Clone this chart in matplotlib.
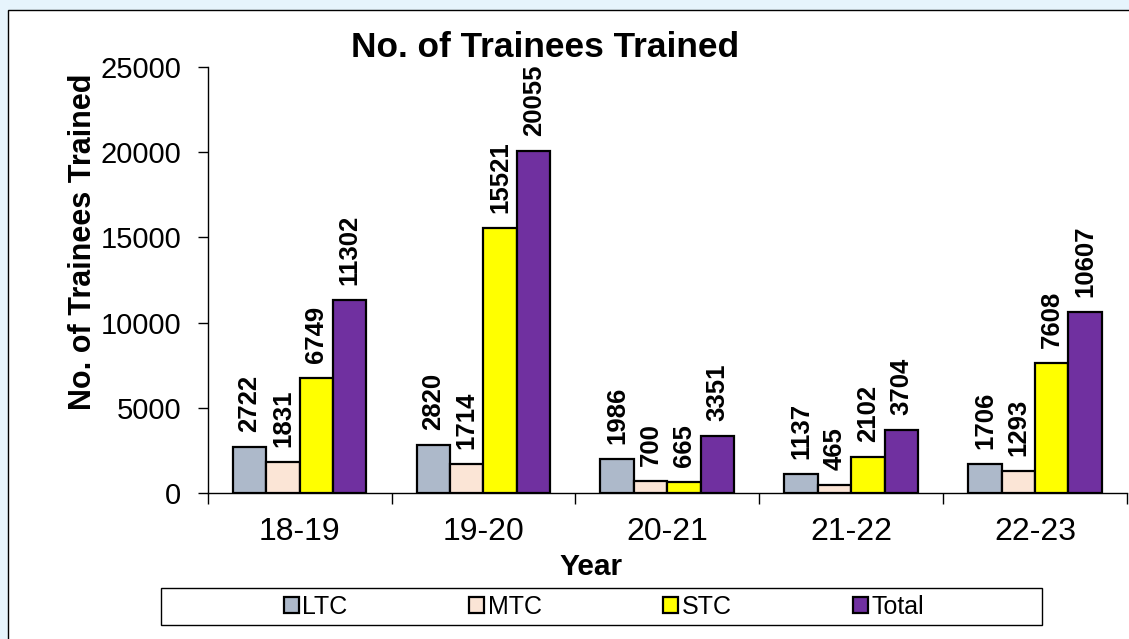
import matplotlib
matplotlib.use("Agg")
import matplotlib.pyplot as plt
from matplotlib.patches import Rectangle, Patch
import numpy as np

plt.rcParams['font.family'] = ['Liberation Sans', 'DejaVu Sans']

years = ["18-19", "19-20", "20-21", "21-22", "22-23"]
series_names = ["LTC", "MTC", "STC", "Total"]
ltc = [2722, 2820, 1986, 1137, 1706]
mtc = [1831, 1714, 700, 465, 1293]
stc = [6749, 15521, 665, 2102, 7608]
total = [11302, 20055, 3351, 3704, 10607]
y_ticks = [0, 5000, 10000, 15000, 20000, 25000]

series_values = [ltc, mtc, stc, total]
colors = ["#ADB9CA", "#FBE5D6", "#FFFF00", "#7030A0"]

W, H, DPI = 1129, 639, 100
fig = plt.figure(figsize=(W / DPI, H / DPI), dpi=DPI)
fig.patch.set_facecolor("#E6F4FC")

# white panel with a black frame
panel = Rectangle((8.3 / W, -0.05), 1.05, 1 - 10 / H + 0.05, transform=fig.transFigure,
                  facecolor="white", edgecolor="black", linewidth=1.0, zorder=-2)
fig.patches.append(panel)

ax = fig.add_axes([207.7 / W, (H - 493.3) / H, (1127 - 207.7) / W, (493.3 - 66.7) / H])
ax.set_facecolor("none")
ax.set_zorder(2)

n_cat = len(years)
bar_w = 1 / 5.5
x = np.arange(n_cat) + 0.5
for i, (name, vals, col) in enumerate(zip(series_names, series_values, colors)):
    pos = x + (i - 1.5) * bar_w
    bars = ax.bar(pos, vals, width=bar_w, color=col, edgecolor="black", linewidth=1.6,
                  label=name, zorder=2)
    for b, v in zip(bars, vals):
        ax.annotate(f"{v}", (b.get_x() + b.get_width() / 2, v), xytext=(0, 11),
                    textcoords="offset points", rotation=90, ha="center", va="bottom",
                    fontsize=18.5, fontweight="bold", zorder=3)

ax.set_xlim(0, n_cat)
ax.set_ylim(0, 25000)
ax.set_yticks(y_ticks)
ax.set_yticklabels([str(t) for t in y_ticks])
ax.set_xticks(np.arange(n_cat + 1))
ax.set_xticklabels([])
ax.set_xticks(x, minor=True)
ax.set_xticklabels(years, minor=True)
ax.tick_params(axis="x", which="major", direction="out", length=8, width=1.0)
ax.tick_params(axis="x", which="minor", length=0, pad=17, labelsize=23)
ax.tick_params(axis="y", direction="out", length=7, width=1.0, pad=12, labelsize=21)

for s in ["top", "right"]:
    ax.spines[s].set_visible(False)
for s in ["left", "bottom"]:
    ax.spines[s].set_linewidth(1.0)
ax.spines["bottom"].set_zorder(4)

fig.text(545 / W, 1 - 57 / H, "No. of Trainees Trained", ha="center", va="baseline",
         fontsize=25.4, fontweight="bold")
fig.text(83 / W, 1 - 242 / H, "No. of Trainees Trained", ha="center", va="center",
         rotation=90, fontsize=22, fontweight="bold")
fig.text(591 / W, 1 - 575 / H, "Year", ha="center", va="baseline",
         fontsize=21.5, fontweight="bold")

# legend box and entries
legend_box = Rectangle((161 / W, 1 - 625 / H), (1042 - 161) / W, 37 / H,
                       transform=fig.transFigure, facecolor="white", edgecolor="black",
                       linewidth=1.0, zorder=-1)
fig.patches.append(legend_box)
handles = [Patch(facecolor=c, edgecolor="black", linewidth=1.6) for c in colors]
leg = fig.legend(handles, series_names, loc="center", bbox_to_anchor=(604 / W, 1 - 606.5 / H),
                 ncol=4, frameon=False, fontsize=18, handlelength=0.6, handleheight=0.6,
                 handletextpad=0.15, columnspacing=4.85, borderaxespad=0, borderpad=0)
leg.set_zorder(5)

fig.savefig("out.png", dpi=DPI, facecolor=fig.get_facecolor())
